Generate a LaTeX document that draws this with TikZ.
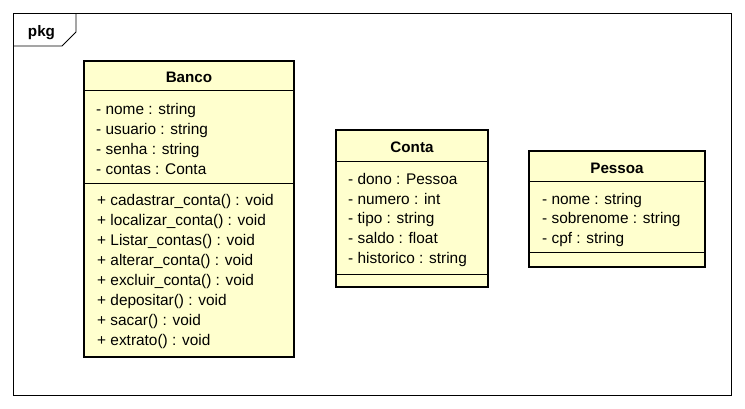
\documentclass[tikz,border=0pt]{standalone}
\usepackage{fontspec}
\setmainfont{Liberation Sans}
\definecolor{fondclasse}{RGB}{255,255,206}
\begin{document}
\begin{tikzpicture}[x=1pt,y=-1pt,
  bord/.style={draw=black, line width=2.6pt},
  sep/.style={draw=black, line width=0.9pt},
  titre/.style={anchor=base, inner sep=0pt, font=\bfseries\fontsize{15.2}{18}\selectfont},
  membre/.style={anchor=base west, inner sep=0pt, font=\fontsize{15.4}{18}\selectfont}]
\useasboundingbox (0,0) rectangle (745,408);
% Cadre du paquetage
\draw[line width=0.9pt] (13,13) rectangle (731,395);
\draw[line width=0.9pt] (13,46) -- (62,46) -- (76,32) -- (76,13);
\node[titre] (pkg) at (41.5,36.5) {pkg};
% Classe Banco
\fill[fondclasse] (84,61) rectangle (294,357);
\draw[sep] (84,90) -- (294,90);
\draw[sep] (84,183) -- (294,183);
\draw[bord] (84,61) rectangle (294,357);
\node[titre] (banco) at (189,82.5) {Banco};
\node[membre] (bnome) at (96,114) {- nome : string};
\node[membre] (busuario) at (96,134) {- usuario : string};
\node[membre] (bsenha) at (96,154) {- senha : string};
\node[membre] (bcontas) at (96,174) {- contas : Conta};
\node[membre] (bcadastrar) at (97,205) {+ cadastrar\_conta() : void};
\node[membre] (blocalizar) at (97,225) {+ localizar\_conta() : void};
\node[membre] (blistar) at (97,245) {+ Listar\_contas() : void};
\node[membre] (balterar) at (97,265) {+ alterar\_conta() : void};
\node[membre] (bexcluir) at (97,285) {+ excluir\_conta() : void};
\node[membre] (bdepositar) at (97,305) {+ depositar() : void};
\node[membre] (bsacar) at (97,325.5) {+ sacar() : void};
\node[membre] (bextrato) at (97,345.5) {+ extrato() : void};
% Classe Conta
\fill[fondclasse] (336,130) rectangle (488,287);
\draw[sep] (336,161) -- (488,161);
\draw[sep] (336,274) -- (488,274);
\draw[bord] (336,130) rectangle (488,287);
\node[titre] (conta) at (412,152.5) {Conta};
\node[membre] (cdono) at (348,184) {- dono : Pessoa};
\node[membre] (cnumero) at (348,204) {- numero : int};
\node[membre] (ctipo) at (348,223.5) {- tipo : string};
\node[membre] (csaldo) at (348,243.5) {- saldo : float};
\node[membre] (chistorico) at (348,263) {- historico : string};
% Classe Pessoa
\fill[fondclasse] (529,151) rectangle (705,267);
\draw[sep] (529,181) -- (705,181);
\draw[sep] (529,252) -- (705,252);
\draw[bord] (529,151) rectangle (705,267);
\node[titre] (pessoa) at (617,173) {Pessoa};
\node[membre] (pnome) at (542,204) {- nome : string};
\node[membre] (psobrenome) at (542,223.5) {- sobrenome : string};
\node[membre] (pcpf) at (542,243) {- cpf : string};
\end{tikzpicture}
\end{document}
